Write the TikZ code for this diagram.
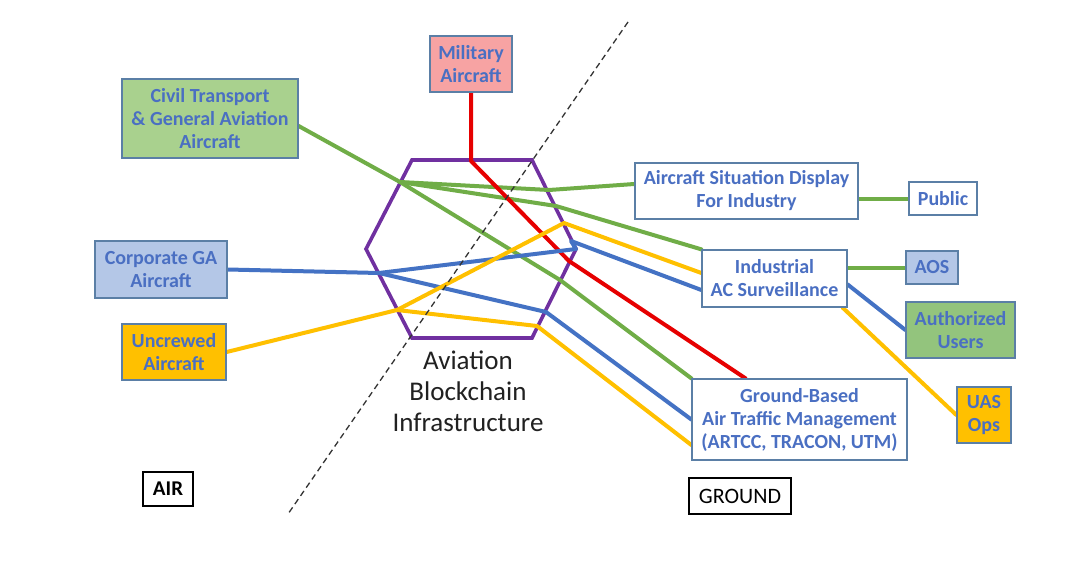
\documentclass[tikz,border=0pt]{standalone}
\usepackage{fontspec}
\setmainfont{Carlito}
\usetikzlibrary{calc}
\pgfdeclarelayer{bg}
\pgfsetlayers{bg,main}
\definecolor{lgreen}{HTML}{70AD47}
\definecolor{lblue}{HTML}{4472C4}
\definecolor{lyellow}{HTML}{FFC000}
\definecolor{lred}{HTML}{E60000}
\definecolor{hexpurple}{HTML}{7030A0}
\definecolor{boxborder}{HTML}{5B7FA6}
\definecolor{boxtext}{HTML}{4A6FC2}
\definecolor{fgreen}{HTML}{A9D18E}
\definecolor{fgreendark}{HTML}{93C47D}
\definecolor{fblue}{HTML}{B4C7E7}
\definecolor{fpink}{HTML}{F7A3A3}
\definecolor{forange}{HTML}{FFC000}
\tikzset{
  box/.style={draw=boxborder, line width=1.3pt, fill=white, align=center,
    inner sep=0pt, text=boxtext, font=\bfseries\fontsize{20}{23}\selectfont},
  plainbox/.style={draw=black, line width=1.2pt, fill=white, inner sep=0pt,
    font=\fontsize{22}{26}\selectfont},
  conn/.style={line width=4pt, line join=round, line cap=round},
  gline/.style={conn, draw=lgreen},
  bline/.style={conn, draw=lblue},
  yline/.style={conn, draw=lyellow},
  rline/.style={conn, draw=lred},
}
\begin{document}
\begin{tikzpicture}[x=1pt,y=-1pt]
\useasboundingbox (0,0) rectangle (1078,564);

% nodes
\node[box, fill=fpink, minimum width=82pt, minimum height=56pt] (mil) at (471,64) {Military\\Aircraft};
\node[box, fill=fgreen, minimum width=176pt, minimum height=79pt] (civil) at (210,118.5) {Civil Transport\\\& General Aviation\\Aircraft};
\node[box, fill=fblue, minimum width=132pt, minimum height=57pt] (corp) at (161,269.5) {Corporate GA\\Aircraft};
\node[box, fill=forange, minimum width=104pt, minimum height=56pt] (uncr) at (174,352) {Uncrewed\\Aircraft};
\node[box, minimum width=223pt, minimum height=56pt] (asd) at (746.5,191) {Aircraft Situation Display\\For Industry};
\node[box, minimum width=68pt, minimum height=33pt] (public) at (943,198.5) {Public};
\node[box, minimum width=145pt, minimum height=57pt] (ind) at (774.5,278.5) {Industrial\\AC Surveillance};
\node[box, fill=fblue, minimum width=52pt, minimum height=33pt] (aos) at (932,267.5) {AOS};
\node[box, fill=fgreendark, minimum width=109pt, minimum height=56pt] (auth) at (960.5,330) {Authorized\\Users};
\node[box, fill=forange, minimum width=54pt, minimum height=56pt] (uas) at (984,415) {UAS\\Ops};
\node[box, minimum width=215pt, minimum height=81pt] (atm) at (799.5,419.5) {Ground-Based\\Air Traffic Management\\(ARTCC, TRACON, UTM)};
\node[plainbox, font=\bfseries\fontsize{21}{25}\selectfont, minimum width=50pt, minimum height=34pt] (air) at (168,489) {AIR};
\node[plainbox, minimum width=102pt, minimum height=36pt] (ground) at (740,496) {GROUND};
\node[align=center, text=black!87, font=\fontsize{27}{31}\selectfont] (abi) at (468,391) {Aviation\\Blockchain\\Infrastructure};

% hexagon
\coordinate (h1) at (412,160);
\coordinate (h2) at (532,160);
\coordinate (h3) at (576,249);
\coordinate (h4) at (532,338);
\coordinate (h5) at (412,338);
\coordinate (h6) at (366,249);

% junctions and bends
\coordinate (jg) at (400,182);
\coordinate (jb) at (379,273);
\coordinate (jy) at (397,310);
\coordinate (g1b) at (549,190);
\coordinate (g2b) at (556,206);
\coordinate (g3b) at (560,280);
\coordinate (r1) at (471,161);
\coordinate (r2) at (569,261);
\coordinate (b1a) at (576,249);
\coordinate (b1b) at (571,241);
\coordinate (b2b) at (546,312);
\coordinate (y1b) at (564,223);
\coordinate (y2b) at (537,326);
\coordinate (dtop) at (628,22);
\coordinate (dbot) at (288,514);

\begin{pgfonlayer}{bg}
\fill[white] (0,0) rectangle (1078,564);
\draw[hexpurple, line width=3.6pt, line join=miter] (h1) -- (h2) -- (h3) -- (h4) -- (h5) -- (h6) -- cycle;
\draw[gline] ($(civil.east)+(0,7.5)$) -- (jg);
\draw[gline] (jg) -- (g1b) -- ($(asd.west)+(0,-7)$);
\draw[gline] (jg) -- (g2b) -- (ind.north west);
\draw[gline] (jg) -- (g3b) -- (atm.north west);
\draw[rline] (mil.south) -- (r1) -- (r2) -- ($(atm.north)+(-54,0)$);
\draw[bline] (corp.east) -- (jb);
\draw[bline] (jb) -- (b1a) -- (b1b) -- ($(ind.west)+(0,11.5)$);
\draw[bline] (jb) -- (b2b) -- (atm.west);
\draw[yline] (uncr.east) -- (jy);
\draw[yline] (jy) -- (y1b) -- ($(ind.west)+(0,-5.5)$);
\draw[yline] (jy) -- (y2b) -- ($(atm.west)+(0,25.5)$);
\draw[gline] (asd.east |- public.west) -- (public.west);
\draw[gline] (ind.east |- aos.west) -- (aos.west);
\draw[bline] ($(ind.east)+(0,6)$) -- (auth.west);
\draw[yline] ($(ind.south east)+(-5,0)$) -- (uas.west);
\draw[black!80, line width=1.3pt, dash pattern=on 6pt off 4pt] (dtop) -- (dbot);
\end{pgfonlayer}
\end{tikzpicture}
\end{document}
